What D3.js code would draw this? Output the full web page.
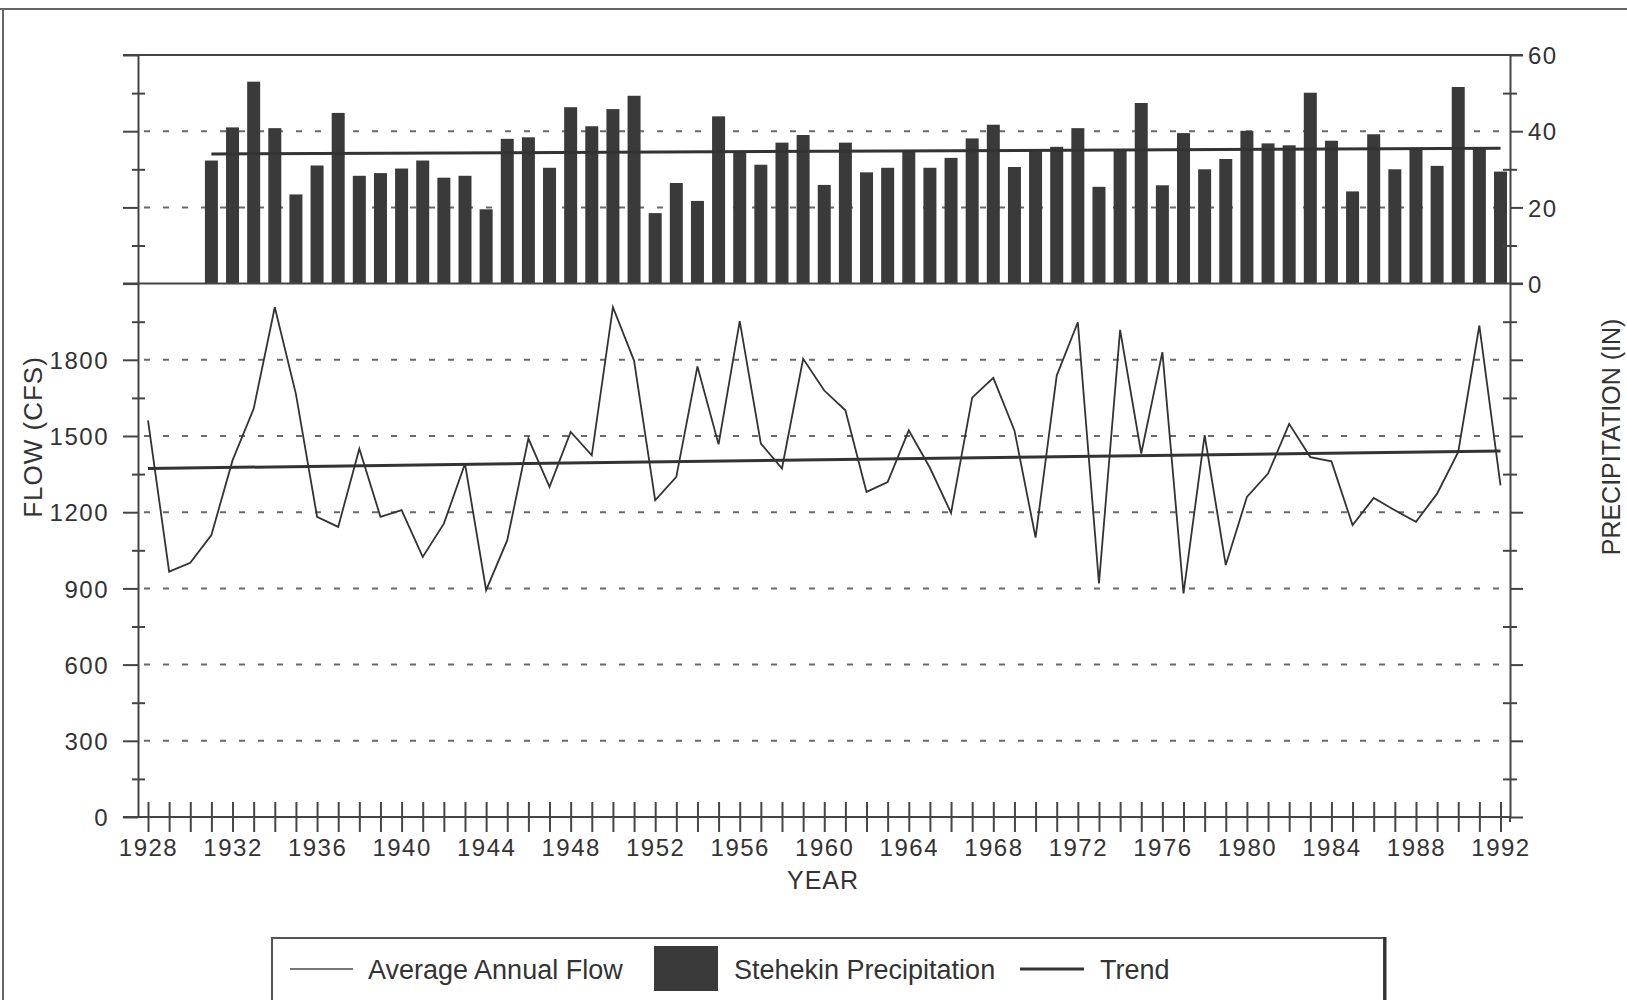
<!DOCTYPE html>
<html>
<head>
<meta charset="utf-8">
<script src="https://cdn.jsdelivr.net/npm/d3@7"></script>
<style>
  html, body { margin: 0; padding: 0; background: #ffffff; }
  svg { display: block; }
  text { font-family: "Liberation Sans", Arial, Helvetica, sans-serif; fill: #333; }
</style>
</head>
<body>
<svg id="chart" width="1627" height="1000"></svg>
<script>
// ---------------- DATA ----------------
const flowYears = [1928,1929,1930,1931,1932,1933,1934,1935,1936,1937,1938,1939,1940,1941,1942,1943,1944,1945,1946,1947,1948,1949,1950,1951,1952,1953,1954,1955,1956,1957,1958,1959,1960,1961,1962,1963,1964,1965,1966,1967,1968,1969,1970,1971,1972,1973,1974,1975,1976,1977,1978,1979,1980,1981,1982,1983,1984,1985,1986,1987,1988,1989,1990,1991,1992];
const flowValues = [1562,966,1001,1110,1404,1607,2007,1665,1182,1142,1450,1182,1208,1024,1155,1391,893,1090,1490,1300,1516,1424,2007,1797,1247,1339,1774,1467,1952,1470,1372,1804,1679,1601,1280,1319,1522,1375,1197,1651,1729,1522,1100,1738,1948,920,1918,1431,1830,880,1503,992,1260,1352,1548,1417,1400,1149,1256,1208,1162,1273,1437,1935,1306];

const precipYears = [1931,1932,1933,1934,1935,1936,1937,1938,1939,1940,1941,1942,1943,1944,1945,1946,1947,1948,1949,1950,1951,1952,1953,1954,1955,1956,1957,1958,1959,1960,1961,1962,1963,1964,1965,1966,1967,1968,1969,1970,1971,1972,1973,1974,1975,1976,1977,1978,1979,1980,1981,1982,1983,1984,1985,1986,1987,1988,1989,1990,1991,1992];
const precipValues = [32.3,41,53,40.8,23.4,31,44.8,28.3,29,30.2,32.3,27.8,28.3,19.5,38,38.4,30.4,46.3,41.3,45.8,49.3,18.5,26.4,21.7,43.9,34.3,31.2,37,39,25.9,37,29.2,30.4,34.8,30.4,33,38.1,41.7,30.6,34.8,35.9,40.8,25.4,34.8,47.4,25.8,39.5,30,32.7,40.1,36.8,36.3,50.1,37.5,24.2,39.2,30,35.3,30.9,51.6,35.3,29.4];

const flowTrendYears = [1928, 1992];
const flowTrendValues = [1372, 1441];
const precipTrendYears = [1931, 1992];
const precipTrendValues = [34.0, 35.5];

const flowTickValues = [0,150,300,450,600,750,900,1050,1200,1350,1500,1650,1800,1950,2100,2250,2400,2550,2700,2850,3000];
const flowTickLabels = [0,300,600,900,1200,1500,1800];
const precipTickLabels = [0,20,40,60];
const flowGrid = [300,600,900,1200,1500,1800];
const precipGrid = [20,40];
const yearLabelStep = 4;

const legendItems = ["Average Annual Flow", "Stehekin Precipitation", "Trend"];
const yTitleLeft = "FLOW (CFS)";
const yTitleRight = "PRECIPITATION (IN)";
const xTitle = "YEAR";

// ---------------- LAYOUT ----------------
const svg = d3.select("#chart");
const INK = "#3a3a3a";
const AX = "#454545";

const x = d3.scaleLinear().domain([1928, 1992]).range([148, 1500.5]);
const y = d3.scaleLinear().domain([0, 3000]).range([817, 55]);
const yP = d3.scaleLinear().domain([0, 60]).range([y(2100), y(3000)]);

const leftX = 138, rightX = 1510;

// outer frame of the scanned figure
svg.append("line").attr("x1", 0).attr("x2", 1627).attr("y1", 9).attr("y2", 9)
  .attr("stroke", "#666").attr("stroke-width", 2);
svg.append("line").attr("x1", 3).attr("x2", 3).attr("y1", 9).attr("y2", 1000)
  .attr("stroke", "#666").attr("stroke-width", 2);

// gridlines
const grid = svg.append("g").attr("stroke", "#6a6a6a").attr("stroke-width", 2)
  .attr("stroke-dasharray", "6,13");
grid.selectAll("line.gf").data(flowGrid).join("line").attr("class", "gf")
  .attr("x1", leftX + 6).attr("x2", rightX).attr("y1", d => y(d)).attr("y2", d => y(d));
grid.selectAll("line.gp").data(precipGrid).join("line").attr("class", "gp")
  .attr("x1", leftX + 6).attr("x2", rightX).attr("y1", d => yP(d)).attr("y2", d => yP(d));

// precipitation bars
const barW = 13;
svg.append("g").selectAll("rect").data(precipValues).join("rect")
  .attr("x", (d, i) => x(precipYears[i]) - barW / 2)
  .attr("width", barW)
  .attr("y", d => yP(d))
  .attr("height", d => yP(0) - yP(d))
  .attr("fill", INK);

// panel separators (top border, precip zero line)
svg.append("line").attr("x1", 123).attr("x2", rightX + 13).attr("y1", y(3000)).attr("y2", y(3000))
  .attr("stroke", AX).attr("stroke-width", 2);
svg.append("line").attr("x1", 123).attr("x2", rightX + 13).attr("y1", yP(0)).attr("y2", yP(0))
  .attr("stroke", AX).attr("stroke-width", 2);

// trend lines
const trendLine = d3.line().x(d => x(d[0])).y(d => d[1]);
svg.append("path")
  .attr("d", trendLine(precipTrendYears.map((yr, i) => [yr, yP(precipTrendValues[i])])))
  .attr("fill", "none").attr("stroke", "#333").attr("stroke-width", 3);
svg.append("path")
  .attr("d", trendLine(flowTrendYears.map((yr, i) => [yr, y(flowTrendValues[i])])))
  .attr("fill", "none").attr("stroke", "#333").attr("stroke-width", 3);

// flow line
const flowLine = d3.line().x((d, i) => x(flowYears[i])).y(d => y(d));
svg.append("path").attr("d", flowLine(flowValues))
  .attr("fill", "none").attr("stroke", "#333").attr("stroke-width", 1.8)
  .attr("stroke-linejoin", "miter");

// left axis
const gL = svg.append("g").attr("transform", `translate(${leftX},0)`)
  .call(d3.axisLeft(y).tickValues(flowTickValues).tickSizeOuter(0)
    .tickFormat(d => flowTickLabels.includes(d) ? d : ""));
gL.select(".domain").attr("stroke", AX).attr("stroke-width", 2);
gL.selectAll(".tick line").attr("stroke", AX).attr("stroke-width", 2)
  .attr("x1", d => d % 300 === 0 ? -15 : -6)
  .attr("x2", d => d % 300 === 0 ? 0 : 7);
gL.selectAll(".tick text").attr("x", -29).attr("dy", "0.36em")
  .style("font-size", "24px").style("letter-spacing", "1.5px").attr("fill", "#333")
  .style("font-family", "'Liberation Sans', Arial, sans-serif");

// right axis
const gR = svg.append("g").attr("transform", `translate(${rightX},0)`)
  .call(d3.axisRight(y).tickValues(flowTickValues).tickSizeOuter(0)
    .tickFormat(d => {
      const p = Math.round(yP.invert(y(d)));
      return (d >= 2100 && precipTickLabels.includes(p)) ? p : "";
    }));
gR.select(".domain").attr("stroke", AX).attr("stroke-width", 2);
gR.selectAll(".tick line").attr("stroke", AX).attr("stroke-width", 2)
  .attr("x1", d => d % 300 === 0 ? 0 : -7)
  .attr("x2", d => d % 300 === 0 ? 13 : 7);
gR.selectAll(".tick text").attr("x", 18).attr("dy", "0.36em")
  .style("font-size", "24px").style("letter-spacing", "1.5px").attr("fill", "#333")
  .style("font-family", "'Liberation Sans', Arial, sans-serif");
svg.append("line").attr("x1", rightX).attr("x2", rightX).attr("y1", y(0)).attr("y2", y(0) + 5)
  .attr("stroke", AX).attr("stroke-width", 2);

// bottom axis
const gB = svg.append("g").attr("transform", `translate(0,${y(0)})`)
  .call(d3.axisBottom(x).tickValues(flowYears).tickSizeOuter(0)
    .tickFormat(d => (d - 1928) % yearLabelStep === 0 ? d : ""));
gB.select(".domain").remove();
gB.insert("line", ":first-child").attr("x1", 123).attr("x2", rightX).attr("y1", 0).attr("y2", 0)
  .attr("stroke", AX).attr("stroke-width", 2);
gB.selectAll(".tick line").attr("stroke", AX).attr("stroke-width", 2)
  .attr("y1", -15).attr("y2", 15);
gB.selectAll(".tick text").attr("y", 22).attr("dy", "0.71em")
  .style("font-size", "24px").style("letter-spacing", "1.5px").attr("fill", "#333")
  .style("font-family", "'Liberation Sans', Arial, sans-serif");

// axis titles
svg.append("text").attr("transform", "translate(33,437) rotate(-90)")
  .attr("text-anchor", "middle").attr("dy", "0.36em")
  .style("font-size", "26px").style("letter-spacing", "1px").text(yTitleLeft);
svg.append("text").attr("transform", "translate(1611,437) rotate(-90)")
  .attr("text-anchor", "middle").attr("dy", "0.36em")
  .style("font-size", "25px").text(yTitleRight);
svg.append("text").attr("x", 823).attr("y", 880).attr("text-anchor", "middle").attr("dy", "0.36em")
  .style("font-size", "25px").style("letter-spacing", "1px").text(xTitle);

// legend
const lg = svg.append("g");
lg.append("rect").attr("x", 272).attr("y", 938).attr("width", 1112).attr("height", 80)
  .attr("fill", "#fff").attr("stroke", "#555").attr("stroke-width", 2);
lg.append("line").attr("x1", 1385).attr("x2", 1385).attr("y1", 937).attr("y2", 1000)
  .attr("stroke", "#333").attr("stroke-width", 3);
lg.append("line").attr("x1", 290).attr("x2", 353).attr("y1", 969).attr("y2", 969)
  .attr("stroke", "#777").attr("stroke-width", 1.8);
lg.append("text").attr("x", 368).attr("y", 969).attr("dy", "0.36em")
  .style("font-size", "27px").text(legendItems[0]);
lg.append("rect").attr("x", 654).attr("y", 946).attr("width", 64).attr("height", 45)
  .attr("fill", INK);
lg.append("text").attr("x", 734).attr("y", 969).attr("dy", "0.36em")
  .style("font-size", "27px").text(legendItems[1]);
lg.append("line").attr("x1", 1020).attr("x2", 1084).attr("y1", 969).attr("y2", 969)
  .attr("stroke", "#333").attr("stroke-width", 3);
lg.append("text").attr("x", 1100).attr("y", 969).attr("dy", "0.36em")
  .style("font-size", "27px").text(legendItems[2]);
</script>
</body>
</html>
